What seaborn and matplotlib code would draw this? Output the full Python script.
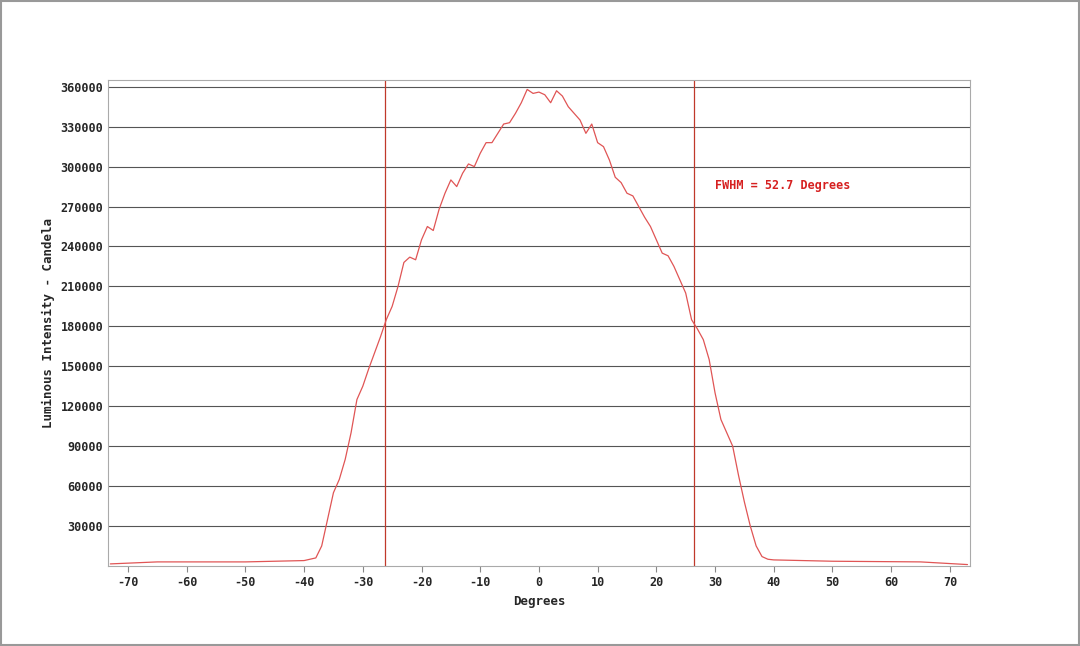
import numpy as np
import pandas as pd
import matplotlib
matplotlib.use('Agg')
import matplotlib.pyplot as plt
import seaborn as sns

# values
degrees = [-73, -65, -50, -40, -38, -37, -36, -35, -34, -33, -32, -31, -30, -29, -28, -27, -26,
           -25, -24, -23, -22, -21, -20, -19, -18, -17, -16, -15, -14, -13, -12, -11, -10,
           -9, -8, -7, -6, -5, -4, -3, -2, -1, 0, 1, 2, 3, 4, 5, 6, 7, 8, 9, 10,
           11, 12, 13, 14, 15, 16, 17, 18, 19, 20, 21, 22, 23, 24, 25, 26, 27, 28, 29, 30,
           31, 32, 33, 34, 35, 36, 37, 38, 39, 40, 50, 65, 73]
candela = [1500, 3000, 3000, 4000, 6000, 15000, 35000, 55000, 65000, 80000, 100000, 125000,
           135000, 148000, 160000, 172000, 185000,
           195000, 210000, 228000, 232000, 230000, 245000, 255000, 252000, 268000, 280000,
           290000, 285000, 295000, 302000, 300000, 310000,
           318000, 318000, 325000, 332000, 333000, 340000, 348000, 358000, 355000, 356000,
           354000, 348000, 357000, 353000, 345000, 340000, 335000, 325000, 332000, 318000,
           315000, 305000, 292000, 288000, 280000, 278000, 270000, 262000, 255000, 245000,
           235000, 233000, 225000, 215000, 205000, 185000, 178000, 170000, 155000, 130000,
           110000, 100000, 90000, 68000, 48000, 30000, 15000, 7000, 5000, 4500, 3500, 3000, 1000]
fwhm_left, fwhm_right = -26.3, 26.4
fwhm_text = 'FWHM = 52.7 Degrees'
x_ticks = list(range(-70, 71, 10))
y_ticks = list(range(30000, 360001, 30000))

df = pd.DataFrame({'Degrees': degrees, 'Candela': candela})

sns.set_style('white')
plt.rcParams['font.family'] = ['DejaVu Sans Mono']
plt.rcParams['font.weight'] = 'bold'
plt.rcParams['axes.unicode_minus'] = False

fig = plt.figure(figsize=(10.8, 6.46), dpi=100)
ax = fig.add_axes([0.1, 0.124, 0.798, 0.752])

for y in y_ticks:
    ax.axhline(y, color='#555555', lw=0.8, zorder=1)
ax.axvline(fwhm_left, color='#c0392b', lw=0.9, zorder=2)
ax.axvline(fwhm_right, color='#c0392b', lw=0.9, zorder=2)
sns.lineplot(data=df, x='Degrees', y='Candela', color='#e05555', lw=0.9, ax=ax, zorder=3)

ax.set_xlim(-73.4, 73.4)
ax.set_ylim(0, 365000)
ax.set_xticks(x_ticks)
ax.set_yticks(y_ticks)
ax.tick_params(axis='both', labelsize=8.5, length=4, color='#888888', bottom=True)
ax.tick_params(axis='y', length=0)
for s in ax.spines.values():
    s.set_color('#aaaaaa')
ax.set_xlabel('Degrees', fontsize=9, fontweight='bold')
ax.set_ylabel('Luminous Intensity - Candela', fontsize=9, fontweight='bold')
ax.text(30, 283000, fwhm_text, color='#d62020', fontsize=8.5)

fig.patches.append(plt.Rectangle((0.001, 0.001), 0.998, 0.998, transform=fig.transFigure,
                                 fill=False, edgecolor='#999999', lw=1.5))
fig.savefig('out.png', dpi=100)
